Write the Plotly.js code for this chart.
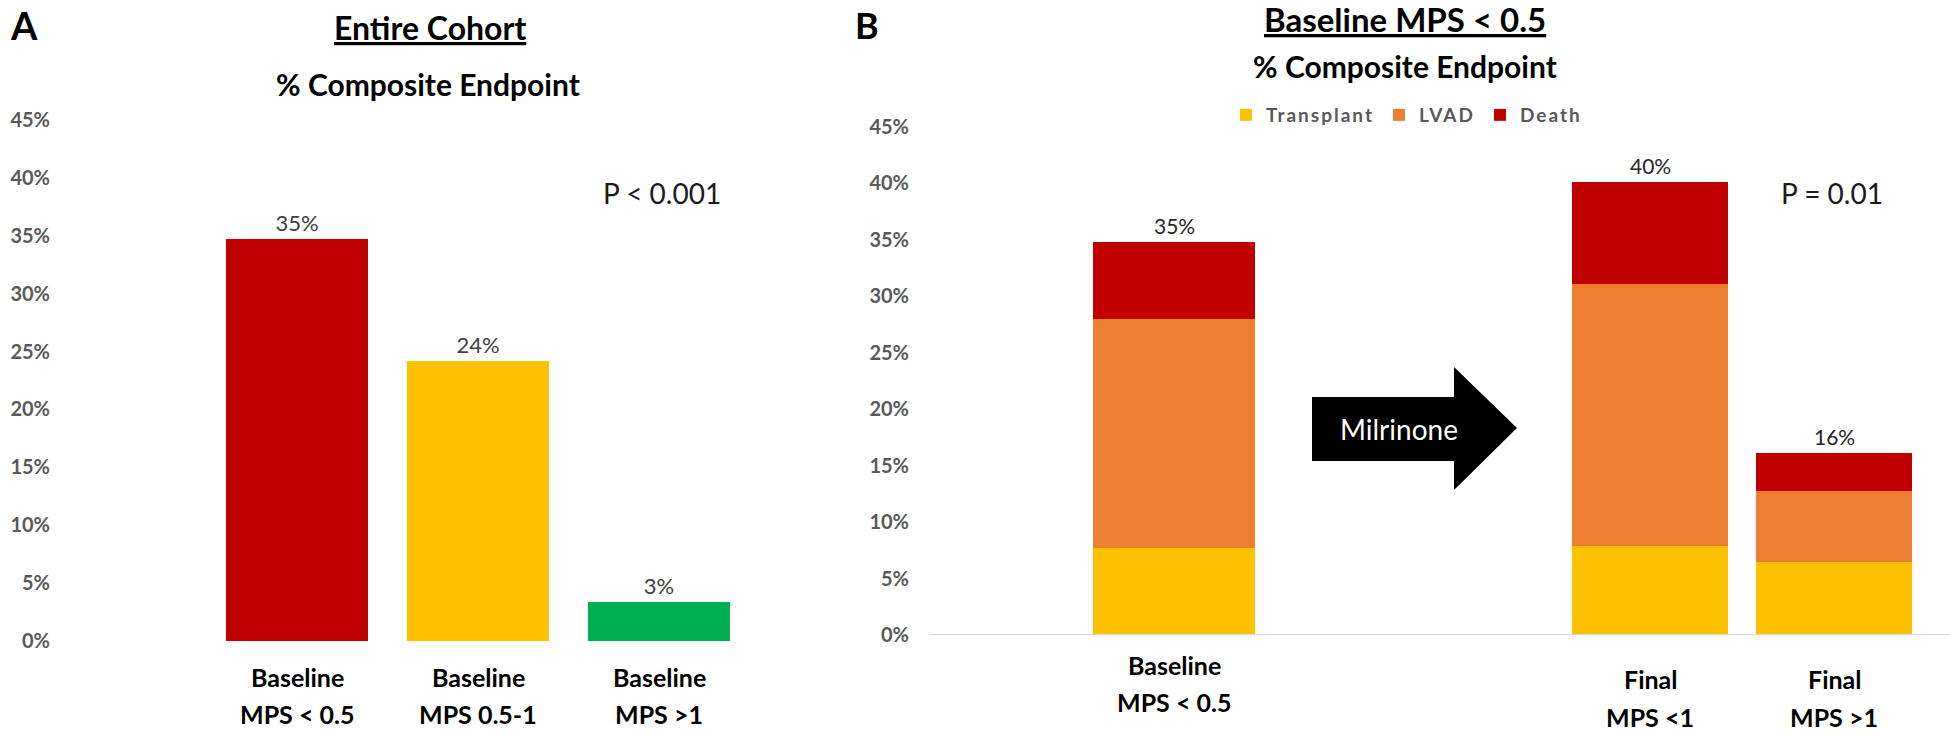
<!DOCTYPE html>
<html>
<head>
<meta charset="utf-8">
<script src="https://cdn.plot.ly/plotly-3.0.1.min.js"></script>
<style>
  html, body { margin: 0; padding: 0; background: #ffffff; }
  #chart { width: 1950px; height: 738px; }
  .legendtext { letter-spacing: 2px; }
</style>
</head>
<body>
<div id="chart"></div>
<script>
// ---------- Panel A data : Entire Cohort ----------
const cohortCategories = ['Baseline MPS < 0.5', 'Baseline MPS 0.5-1', 'Baseline MPS >1'];
const cohortTickText = ['Baseline<br>MPS < 0.5', 'Baseline<br>MPS 0.5-1', 'Baseline<br>MPS >1'];
const cohortValues = [34.7, 24.2, 3.4];
const cohortColors = ['#C00000', '#FFC000', '#00B050'];

// ---------- Panel B data : Baseline MPS < 0.5 ----------
const groupCategories = ['Baseline MPS < 0.5', 'Final MPS <1', 'Final MPS >1'];
const groupTickText = ['Baseline<br>MPS < 0.5', 'Final<br>MPS <1', 'Final<br>MPS >1'];
const transplantValues = [7.7, 7.9, 6.5];
const lvadValues = [20.3, 23.2, 6.3];
const deathValues = [6.8, 9.0, 3.3];
const seriesNames = ['Transplant', 'LVAD', 'Death'];
const seriesColors = ['#FFC000', '#ED7D31', '#C00000'];

// ---------- axis ticks ----------
const yTickValues = [0, 5, 10, 15, 20, 25, 30, 35, 40, 45];
const yTickText = ['0%', '5%', '10%', '15%', '20%', '25%', '30%', '35%', '40%', '45%'];

// ---------- helpers (pixel -> paper) ----------
const W = 1950, H = 738;
const px = v => v / W;
const py = v => 1 - v / H;
const FONT = 'Lato, "Open Sans", sans-serif';

const traces = [];

// Panel A bars
traces.push({
  type: 'bar', x: cohortCategories, y: cohortValues,
  xaxis: 'x', yaxis: 'y',
  marker: { color: cohortColors, line: { width: 0 } },
  width: 0.785,
  text: cohortValues.map(v => Math.round(v) + '%'),
  textposition: 'outside',
  textfont: { family: FONT, size: 22, color: '#404040' },
  cliponaxis: false,
  showlegend: false,
  hoverinfo: 'x+y'
});

// Panel B stacked bars: baseline on x2, finals on x3
const seriesValues = [transplantValues, lvadValues, deathValues];
seriesNames.forEach((name, i) => {
  traces.push({
    type: 'bar', name: name,
    x: groupCategories.slice(0, 1), y: seriesValues[i].slice(0, 1),
    xaxis: 'x2', yaxis: 'y2', width: 0.317,
    marker: { color: seriesColors[i], line: { width: 0 } },
    legendgroup: name, showlegend: true
  });
  traces.push({
    type: 'bar', name: name,
    x: groupCategories.slice(1), y: seriesValues[i].slice(1),
    xaxis: 'x3', yaxis: 'y2', width: 0.85,
    marker: { color: seriesColors[i], line: { width: 0 } },
    legendgroup: name, showlegend: false
  });
});

const totals = groupCategories.map((c, k) => transplantValues[k] + lvadValues[k] + deathValues[k]);

const annotations = [];
// total labels for stacked bars
groupCategories.forEach((c, k) => {
  annotations.push({
    xref: k === 0 ? 'x2' : 'x3', yref: 'y2', x: c, y: totals[k],
    text: Math.round(totals[k]) + '%', showarrow: false,
    yanchor: 'bottom', yshift: 2,
    font: { family: FONT, size: 21, color: '#262626' }
  });
});

// two-line category labels under the bars
const labelFont = { family: FONT, size: 25, color: '#000000' };
function addCategoryLabels(axisRef, cats, tickTexts, yLine1, yLine2) {
  cats.forEach((c, k) => {
    const lines = tickTexts[k].split('<br>');
    [yLine1, yLine2].forEach((yy, j) => {
      annotations.push({
        xref: axisRef, yref: 'paper', x: c, y: py(yy),
        text: '<b>' + lines[j] + '</b>', showarrow: false,
        xanchor: 'center', yanchor: 'middle', font: labelFont
      });
    });
  });
}
addCategoryLabels('x', cohortCategories, cohortTickText, 677, 714);
addCategoryLabels('x2', groupCategories.slice(0, 1), groupTickText.slice(0, 1), 665, 702);
addCategoryLabels('x3', groupCategories.slice(1), groupTickText.slice(1), 679, 717);

// titles and texts
const txt = (text, x, y, size, opts) => Object.assign({
  xref: 'paper', yref: 'paper', x: px(x), y: py(y), text: text, showarrow: false,
  xanchor: 'center', yanchor: 'middle',
  font: { family: FONT, size: size, color: '#000000' }
}, opts || {});

annotations.push(txt('<b>A</b>', 8, 25, 38, { xanchor: 'left' }));
annotations.push(txt('<b><u>Entire Cohort</u></b>', 430, 28, 32));
annotations.push(txt('<b>% Composite Endpoint</b>', 428, 84, 30));
annotations.push(txt('P < 0.001', 662, 193, 28, { font: { family: FONT, size: 28, color: '#1a1a1a' } }));

annotations.push(txt('<b>B</b>', 853, 25, 36, { xanchor: 'left' }));
annotations.push(txt('<b><u>Baseline MPS < 0.5</u></b>', 1405, 19, 33));
annotations.push(txt('<b>% Composite Endpoint</b>', 1405, 66, 30));
annotations.push(txt('P = 0.01', 1832, 193, 28, { font: { family: FONT, size: 28, color: '#1a1a1a' } }));
annotations.push(txt('Milrinone', 1399, 429, 28, { font: { family: FONT, size: 28, color: '#ffffff' } }));

// arrow shape (paper coords)
const arrowPts = [[1312, 397], [1454, 397], [1454, 367], [1517, 428], [1454, 490], [1454, 461], [1312, 461]];
const arrowPath = 'M' + arrowPts.map(p => px(p[0]).toFixed(5) + ',' + py(p[1]).toFixed(5)).join('L') + 'Z';

const shapes = [
  { type: 'path', xref: 'paper', yref: 'paper', path: arrowPath, fillcolor: '#000000', line: { width: 0 } },
  { type: 'line', xref: 'paper', yref: 'y2', x0: px(930), x1: 1, y0: 0, y1: 0, line: { color: '#D9D9D9', width: 2 } }
];

const tickFontY = { family: FONT, size: 20, color: '#595959', weight: 'bold' };

const layout = {
  width: W, height: H,
  margin: { l: 0, r: 0, t: 0, b: 0 },
  paper_bgcolor: '#ffffff', plot_bgcolor: '#ffffff',
  barmode: 'stack',
  showlegend: true,
  legend: {
    orientation: 'h', x: px(1226), y: py(96), xanchor: 'left', yanchor: 'top',
    font: { family: FONT, size: 19, color: '#595959', weight: 'bold' },
    itemwidth: 30, traceorder: 'normal', bgcolor: 'rgba(0,0,0,0)'
  },
  xaxis: {
    domain: [px(55), px(800)], range: [-1.337, 2.779], type: 'category',
    anchor: 'y', showticklabels: false,
    showgrid: false, zeroline: false, showline: false, ticks: '', fixedrange: true
  },
  yaxis: {
    domain: [py(641), py(120)], range: [0, 45], anchor: 'x',
    tickmode: 'array', tickvals: yTickValues, ticktext: yTickText,
    showgrid: false, zeroline: false, showline: false, ticks: '',
    tickfont: tickFontY, ticklabelstandoff: 4, fixedrange: true
  },
  xaxis2: {
    domain: [px(920), px(1428)], range: [-0.5, 0.5], type: 'category', anchor: 'y2',
    showticklabels: false,
    showgrid: false, zeroline: false, showline: false, ticks: '', fixedrange: true
  },
  xaxis3: {
    domain: [px(1558), px(1926)], range: [-0.5, 1.5], type: 'category', anchor: 'y2',
    showticklabels: false,
    showgrid: false, zeroline: false, showline: false, ticks: '', fixedrange: true
  },
  yaxis2: {
    domain: [py(635), py(127)], range: [0, 45], anchor: 'x2',
    tickmode: 'array', tickvals: yTickValues, ticktext: yTickText,
    showgrid: false, zeroline: false, showline: false, ticks: '',
    tickfont: tickFontY, ticklabelstandoff: 10, fixedrange: true
  },
  annotations: annotations,
  shapes: shapes
};

Plotly.newPlot('chart', traces, layout, { displayModeBar: false, staticPlot: true });
</script>
</body>
</html>
